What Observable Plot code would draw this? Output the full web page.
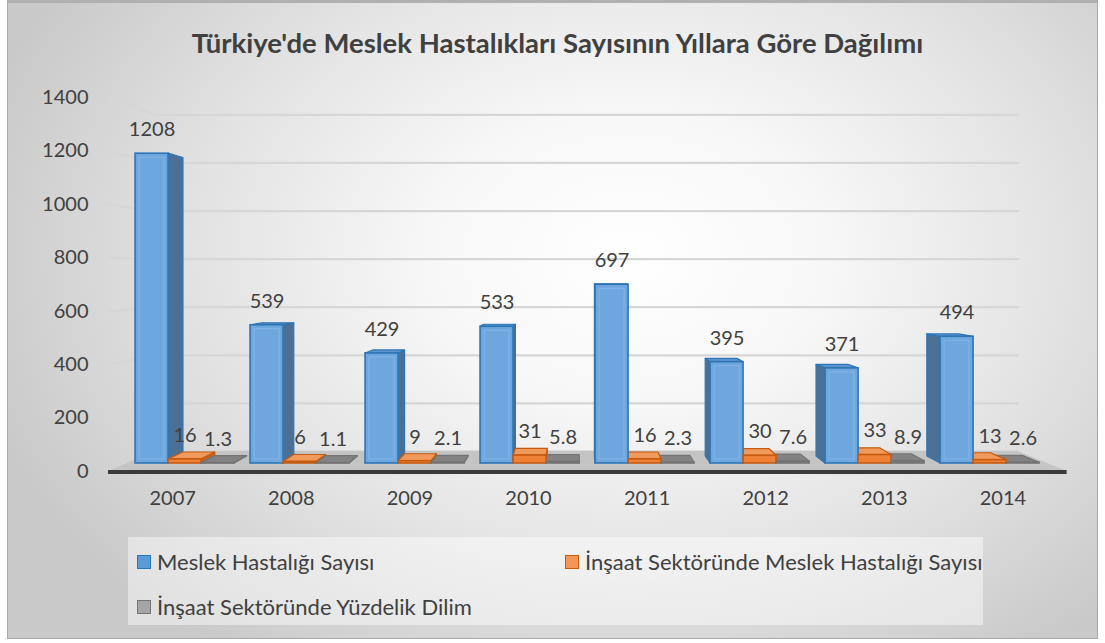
<!DOCTYPE html>
<html>
<head>
<meta charset="utf-8">
<script src="https://cdn.jsdelivr.net/npm/d3@7"></script>
<script src="https://cdn.jsdelivr.net/npm/@observablehq/plot@0.6"></script>
<style>
html, body { margin: 0; padding: 0; background: #fff; width: 1105px; height: 643px; overflow: hidden; font-family: Lato, "Open Sans", sans-serif; }
#frame { position: absolute; left: 7px; top: 0px; width: 1091px; height: 639px; box-sizing: border-box;
  border: 1px solid #a8a8a8; border-top: 3px solid #b0b0b0;
  background: radial-gradient(ellipse 62% 78% at 57% 40%, #ffffff 0%, #f7f7f7 30%, #e2e2e2 65%, #c9c9c9 100%); }
#title { position: absolute; top: 26px; left: 5px; width: 1105px; text-align: center; font-weight: 700; font-size: 27.5px; line-height: 34px; color: #404040; }
#chart { position: absolute; left: 0; top: 80px; }
#legendbox { position: absolute; left: 128px; top: 537px; width: 855px; height: 88px; background: rgba(255,255,255,0.45); }
.item { position: absolute; display: flex; align-items: center; font-size: 22px; line-height: 26px; color: #404040; white-space: nowrap; }
.sw { width: 14px; height: 14px; box-sizing: border-box; border: 1.5px solid; margin-right: 6px; }
</style>
</head>
<body>
<div id="frame"></div>
<div id="title">Türkiye'de Meslek Hastalıkları Sayısının Yıllara Göre Dağılımı</div>
<div id="chart"></div>
<div id="legendbox"></div>
<div id="legend"></div>
<script>
// ---- data ----
const years = ["2007", "2008", "2009", "2010", "2011", "2012", "2013", "2014"];
const meslek = [1208, 539, 429, 533, 697, 395, 371, 494];
const insaat = [16, 6, 9, 31, 16, 30, 33, 13];
const yuzde = [1.3, 1.1, 2.1, 5.8, 2.3, 7.6, 8.9, 2.6];
const seriesNames = [
  "Meslek Hastalığı Sayısı",
  "İnşaat Sektöründe Meslek Hastalığı Sayısı",
  "İnşaat Sektöründe Yüzdelik Dilim"
];
const yTicks = [0, 200, 400, 600, 800, 1000, 1200, 1400];

// ---- styles ----
const palette = [
  {front: "#6ea6de", side: "#4c6f95", top: "#5c93cc", stroke: "#2e75b6", sw: "#5b9bd5"},
  {front: "#ee8134", side: "#c8621c", top: "#f29a5c", stroke: "#c55a11", sw: "#f4965a"},
  {front: "#7a7a7a", side: "#6a6a6a", top: "#838383", stroke: "#737373", sw: "#a5a5a5"}
];

// ---- simple perspective (3D look of the original) ----
const UV = 3.843, WV = 750;            // vanishing point in data units
const depth = d => 1 - 0.1 * d;
const px = (u, d) => UV + (u - UV) * depth(d);
const pw = (v, d) => WV + (v - WV) * depth(d);
const BW = 0.287, D0 = 0.4, D1 = 0.75;
const XL = -0.072, XR = 7.93;

const series = [meslek, insaat, yuzde];
const bars = [];
years.forEach((yr, i) => series.forEach((vals, s) => {
  const uL = i + BW * s;
  bars.push({id: yr + "-" + s, year: yr, s, v: vals[i], uL, uR: uL + BW, uc: uL + BW / 2});
}));

const sides = bars.flatMap(b => {
  const e = b.uc < UV ? b.uR : b.uL;
  return [D0, D1].map(d => ({id: b.id, s: b.s, x: px(e, d), y1: pw(0, d), y2: pw(b.v, d)}));
});
const tops = bars.filter(b => b.v < WV).sort((a, b) => a.v - b.v)
  .flatMap(b => [D0, D1].map(d => ({id: b.id, s: b.s, w: pw(b.v, d), x1: px(b.uL, d), x2: px(b.uR, d)})));
const gridPts = yTicks.flatMap(v => [
  {v, x: XL, w: v}, {v, x: px(XL, 1), w: pw(v, 1)}, {v, x: px(XR, 1), w: pw(v, 1)}
]);
const floorPts = [{w: pw(0, 1), x1: px(XL, 1), x2: px(XR, 1)}, {w: 0, x1: XL, x2: XR}];

const chart = Plot.plot({
  width: 1105,
  height: 440,
  marginLeft: 108,
  marginRight: 38.4,
  marginTop: 17,
  marginBottom: 49,
  style: {background: "none", color: "#404040", fontFamily: "Lato, 'Open Sans', sans-serif", overflow: "visible"},
  x: {type: "linear", domain: [XL, XR], axis: null},
  y: {type: "linear", domain: [0, 1400], axis: null},
  color: {type: "identity"},
  marks: [
    Plot.line(gridPts, {x: "x", y: "w", z: "v", stroke: "#d6d6d6", strokeWidth: 2.2}),
    Plot.areaX(floorPts, {y: "w", x1: "x1", x2: "x2", fill: "#c4c4c4"}),
    Plot.ruleY([0], {x1: () => XL, x2: () => XR, stroke: "#3b3b3b", strokeWidth: 4, dy: 0.5}),
    Plot.areaY(sides, {x: "x", y1: "y1", y2: "y2", z: "id", fill: d => palette[d.s].side, stroke: d => palette[d.s].stroke, strokeWidth: 1.2}),
    Plot.areaX(tops, {y: "w", x1: "x1", x2: "x2", z: "id", fill: d => palette[d.s].top, stroke: d => palette[d.s].stroke, strokeWidth: 1.2}),
    Plot.rect(bars, {
      x1: b => px(b.uL, D0), x2: b => px(b.uR, D0),
      y1: b => pw(0, D0), y2: b => pw(b.v, D0),
      fill: b => palette[b.s].front, stroke: b => palette[b.s].stroke, strokeWidth: 1.6
    }),
    Plot.rect(bars.filter(b => b.s === 0), {
      x1: b => px(b.uL, D0), x2: b => px(b.uR, D0),
      y1: b => pw(0, D0), y2: b => pw(b.v, D0),
      inset: 4, fill: "none", stroke: "#8fbde9", strokeWidth: 1, strokeOpacity: 0.7
    }),
    Plot.axisY(yTicks, {anchor: "left", tickSize: 0, tickPadding: 20, fontSize: 20, fill: "#404040", tickFormat: d => String(d)}),
    Plot.text(years, {x: (d, i) => px(i + 0.43, 0.1), y: () => 0, dy: 27, text: d => d, fontSize: 20, fill: "#404040"}),
    Plot.text(bars, {x: b => px(b.uc, D0), y: b => pw(b.v, D0), dy: -24, text: b => String(b.v), fontSize: 20, fill: "#404040"})
  ]
});
document.getElementById("chart").appendChild(chart);

// ---- legend (HTML, below the SVG) ----
const legendPos = [{left: 137, top: 549}, {left: 565, top: 549}, {left: 137, top: 594}];
const legend = document.getElementById("legend");
seriesNames.forEach((name, s) => {
  const it = document.createElement("div");
  it.className = "item";
  it.style.left = legendPos[s].left + "px";
  it.style.top = legendPos[s].top + "px";
  const sw = document.createElement("span");
  sw.className = "sw";
  sw.style.background = palette[s].sw;
  sw.style.borderColor = palette[s].stroke;
  const tx = document.createElement("span");
  tx.textContent = name;
  it.appendChild(sw); it.appendChild(tx);
  legend.appendChild(it);
});
</script>
</body>
</html>
